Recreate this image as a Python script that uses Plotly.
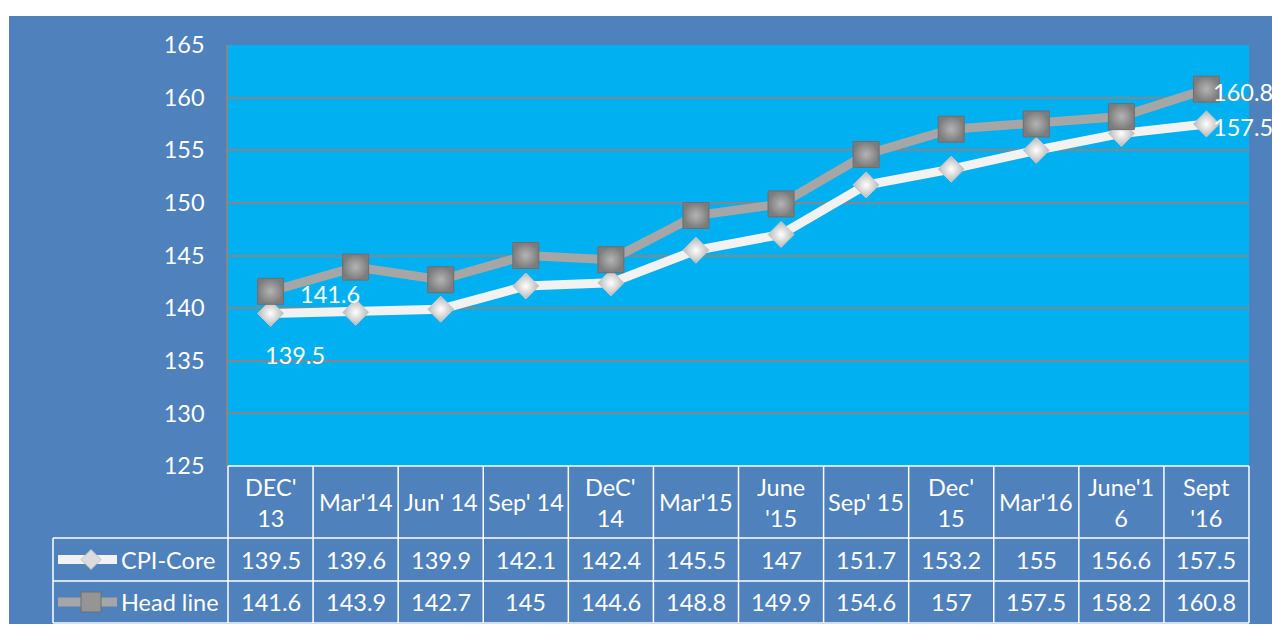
import plotly.graph_objects as go

# ---------------- data ----------------
categories = ["DEC'<br>13", "Mar'14", "Jun' 14", "Sep' 14", "DeC'<br>14", "Mar'15",
              "June<br>'15", "Sep' 15", "Dec'<br>15", "Mar'16", "June'1<br>6", "Sept<br>'16"]
cpi_core = [139.5, 139.6, 139.9, 142.1, 142.4, 145.5, 147, 151.7, 153.2, 155, 156.6, 157.5]
headline = [141.6, 143.9, 142.7, 145, 144.6, 148.8, 149.9, 154.6, 157, 157.5, 158.2, 160.8]
series_names = ["CPI-Core", "Head line"]
y_ticks = [125, 130, 135, 140, 145, 150, 155, 160, 165]

# ---------------- layout constants ----------------
W, H = 1272, 626
def px(x): return x / W
def py(y): return 1 - y / H

X_DOMAIN = [px(228), px(1249)]
Y_DOMAIN = [py(466), py(45)]
FONT = "Lato"
FS = 23.5
WHITE = "#FFFFFF"
OUTER = "#4F81BD"
PLOT_BG = "#00B0F0"
GRID = "#868686"

x_idx = list(range(len(categories)))

fig = go.Figure()

fig.add_trace(go.Scatter(
    x=x_idx, y=cpi_core, mode="lines+markers", name=series_names[0],
    line=dict(color="#F2F2F2", width=9),
    marker=dict(symbol="diamond", size=20, color="#B8B8B8",
                gradient=dict(type="radial", color="#FFFFFF"),
                line=dict(color="#C8C8C8", width=1)),
    cliponaxis=False, hoverinfo="skip"))

fig.add_trace(go.Scatter(
    x=x_idx, y=headline, mode="lines+markers", name=series_names[1],
    line=dict(color="#A6A6A6", width=9),
    marker=dict(symbol="square", size=26, color="#7C7C7C",
                gradient=dict(type="radial", color="#B4B4B4"),
                line=dict(color="#6E6E6E", width=1)),
    cliponaxis=False, hoverinfo="skip"))

shapes = []
# outer blue frame
shapes.append(dict(type="rect", xref="paper", yref="paper", x0=px(9), x1=1, y0=py(624), y1=py(16),
                   fillcolor=OUTER, line=dict(width=0), layer="below"))
# plot area background
shapes.append(dict(type="rect", xref="x domain", yref="y domain", x0=0, x1=1, y0=0, y1=1,
                   fillcolor=PLOT_BG, line=dict(width=0), layer="below"))

# ---- data table ----
T_TOP, T_HDR, T_R1, T_BOT = 466, 538, 581, 623
TL = dict(color=WHITE, width=1.5)
for i in range(1, len(categories)):
    shapes.append(dict(type="line", xref="x", yref="paper", x0=i - 0.5, x1=i - 0.5,
                       y0=py(T_BOT), y1=py(T_TOP), line=TL))
for xd in (0, 1):
    shapes.append(dict(type="line", xref="x domain", yref="paper", x0=xd, x1=xd,
                       y0=py(T_BOT), y1=py(T_TOP), line=TL))
shapes.append(dict(type="line", xref="paper", yref="paper", x0=px(53), x1=px(53),
                   y0=py(T_BOT), y1=py(T_HDR), line=TL))
shapes.append(dict(type="line", xref="x domain", yref="paper", x0=0, x1=1,
                   y0=py(T_TOP), y1=py(T_TOP), line=TL))
for yy in (T_HDR, T_R1, T_BOT):
    shapes.append(dict(type="line", xref="paper", yref="paper", x0=px(53), x1=X_DOMAIN[1],
                       y0=py(yy), y1=py(yy), line=TL))

# legend keys in the table
row_c = [(T_HDR + T_R1) / 2, (T_R1 + T_BOT) / 2]
shapes.append(dict(type="line", xref="paper", yref="paper", x0=px(58), x1=px(117),
                   y0=py(row_c[0]), y1=py(row_c[0]), line=dict(color="#F2F2F2", width=9)))
shapes.append(dict(type="line", xref="paper", yref="paper", x0=px(58), x1=px(117),
                   y0=py(row_c[1]), y1=py(row_c[1]), line=dict(color="#A6A6A6", width=9)))
cx, cy = 91, row_c[0]
shapes.append(dict(type="path", xref="paper", yref="paper",
                   path=f"M {px(cx-10)},{py(cy)} L {px(cx)},{py(cy-10)} L {px(cx+10)},{py(cy)} L {px(cx)},{py(cy+10)} Z",
                   fillcolor="#DCDCDC", line=dict(color="#BDBDBD", width=1)))
cy2 = row_c[1]
shapes.append(dict(type="rect", xref="paper", yref="paper", x0=px(cx-10), x1=px(cx+10),
                   y0=py(cy2+10), y1=py(cy2-10),
                   fillcolor="#959595", line=dict(color="#6E6E6E", width=1)))

annotations = []
tfont = dict(family=FONT, size=FS, color=WHITE)
for i, cat in enumerate(categories):
    annotations.append(dict(x=i, y=py((T_TOP + T_HDR) / 2), xref="x", yref="paper", text=cat,
                            showarrow=False, xanchor="center", yanchor="middle", font=tfont))
    annotations.append(dict(x=i, y=py(row_c[0]), xref="x", yref="paper", text=f"{cpi_core[i]:g}",
                            showarrow=False, xanchor="center", yanchor="middle", font=tfont))
    annotations.append(dict(x=i, y=py(row_c[1]), xref="x", yref="paper", text=f"{headline[i]:g}",
                            showarrow=False, xanchor="center", yanchor="middle", font=tfont))
for r, name in enumerate(series_names):
    annotations.append(dict(x=px(119), y=py(row_c[r]), xref="paper", yref="paper", text=name,
                            showarrow=False, xanchor="left", yanchor="middle", font=tfont))

# data labels on first and last points
annotations.append(dict(x=0, y=headline[0], xref="x", yref="y", text=f"{headline[0]:g}",
                        showarrow=False, xanchor="left", yanchor="middle", xshift=27, yshift=-3, font=tfont))
annotations.append(dict(x=0, y=cpi_core[0], xref="x", yref="y", text=f"{cpi_core[0]:g}",
                        showarrow=False, xanchor="left", yanchor="middle", xshift=-8, yshift=-42, font=tfont))
n = len(categories) - 1
annotations.append(dict(x=n, y=headline[n], xref="x", yref="y", text=f"{headline[n]:g}",
                        showarrow=False, xanchor="left", yanchor="middle", xshift=5, yshift=-3, font=tfont))
annotations.append(dict(x=n, y=cpi_core[n], xref="x", yref="y", text=f"{cpi_core[n]:g}",
                        showarrow=False, xanchor="left", yanchor="middle", xshift=5, yshift=-3, font=tfont))

fig.update_layout(
    width=W, height=H, autosize=False,
    margin=dict(l=0, r=0, t=0, b=0, autoexpand=False),
    paper_bgcolor="#FFFFFF", plot_bgcolor="rgba(0,0,0,0)",
    showlegend=False,
    font=dict(family=FONT, color=WHITE),
    xaxis=dict(domain=X_DOMAIN, range=[-0.5, len(categories) - 0.5], showgrid=False,
               zeroline=False, showticklabels=False, showline=False, fixedrange=True,
               automargin=False),
    yaxis=dict(domain=Y_DOMAIN, range=[y_ticks[0], y_ticks[-1]], tickvals=y_ticks,
               showgrid=True, gridcolor=GRID, gridwidth=1.5, zeroline=False,
               showline=True, linecolor=GRID, linewidth=1.5, ticks="", automargin=False,
               ticklabelstandoff=17, tickfont=dict(family=FONT, size=FS, color=WHITE)),
    shapes=shapes, annotations=annotations,
)

fig.write_html("out.html")
